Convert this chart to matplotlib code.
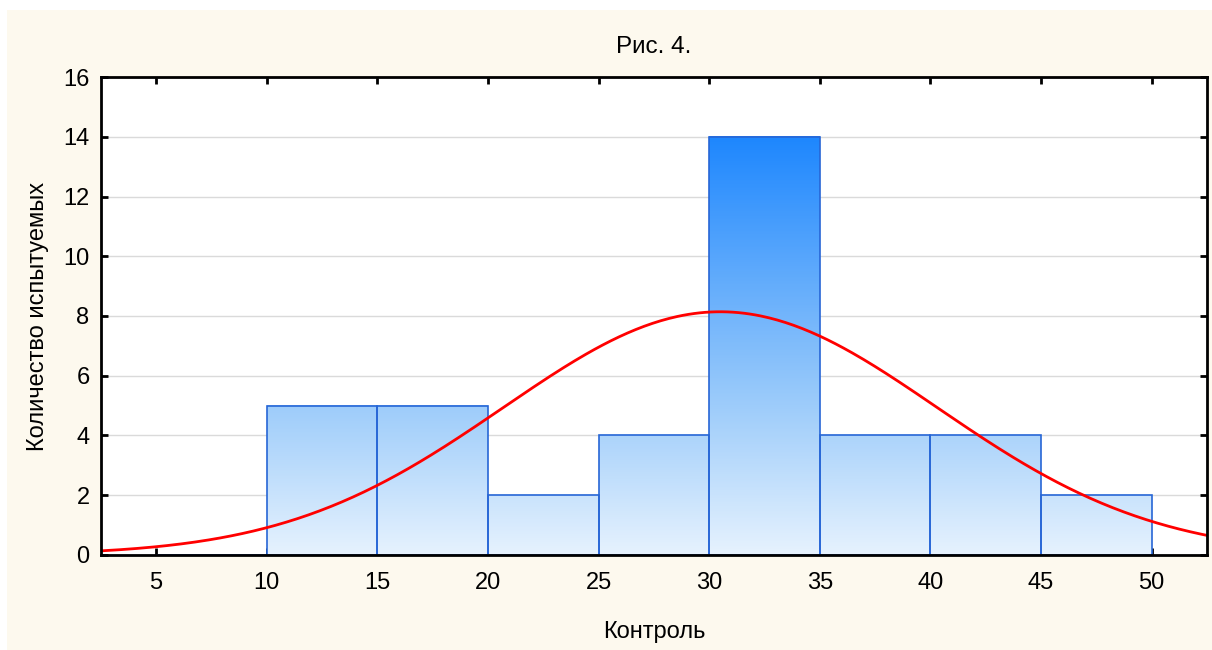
import numpy as np
import matplotlib
matplotlib.use("Agg")
import matplotlib.pyplot as plt
from matplotlib.colors import LinearSegmentedColormap
from matplotlib.patches import Rectangle

plt.rcParams['font.family'] = ['Liberation Sans', 'DejaVu Sans']

# histogram data
bin_edges = [5, 10, 15, 20, 25, 30, 35, 40, 45, 50]
counts = [0, 5, 5, 2, 4, 14, 4, 4, 2]

# fitted normal curve
mean = 30.5
std = 9.8
n_total = sum(counts)
bin_width = 5

x_ticks = [5, 10, 15, 20, 25, 30, 35, 40, 45, 50]
y_ticks = [0, 2, 4, 6, 8, 10, 12, 14, 16]

fig = plt.figure(figsize=(12.12, 6.5), dpi=100)
fig.patch.set_facecolor('white')
# cream background panel
fig.patches.append(Rectangle((7 / 1212, 0), 1, 1 - 10 / 650, transform=fig.transFigure,
                             facecolor='#FDF9EE', edgecolor='none', zorder=-10))

ax = fig.add_axes([0.0831, 0.1462, 0.9128, 0.7353])
ax.set_facecolor('white')

cmap = LinearSegmentedColormap.from_list(
    'blue_grad', [(0, '#E6F2FE'), (5 / 14, '#9DCCFA'), (1, '#1E87FE')])

for i, c in enumerate(counts):
    x0, x1 = bin_edges[i], bin_edges[i + 1]
    if c > 0:
        grad = np.linspace(0, c, 200).reshape(-1, 1)
        ax.imshow(grad, cmap=cmap, vmin=0, vmax=14, origin='lower', aspect='auto',
                  extent=[x0, x1, 0, c], zorder=2, interpolation='bilinear')
    ax.add_patch(Rectangle((x0, 0), x1 - x0, c, facecolor='none',
                           edgecolor='#2766D6', linewidth=1.2, zorder=3))

xs = np.linspace(2.5, 52.5, 400)
ys = n_total * bin_width / (std * np.sqrt(2 * np.pi)) * np.exp(-0.5 * ((xs - mean) / std) ** 2)
ax.plot(xs, ys, color='#FF0000', linewidth=2, zorder=4)

ax.set_xlim(2.5, 52.5)
ax.set_ylim(0, 16)
ax.set_xticks(x_ticks)
ax.set_yticks(y_ticks)
ax.grid(axis='y', color='#DADADA', linewidth=1, zorder=1)
ax.set_axisbelow(True)
ax.tick_params(direction='in', length=5, width=2, labelsize=17, top=True, right=True,
               labeltop=False, labelright=False)
ax.tick_params(axis='x', pad=12)
ax.tick_params(axis='y', pad=8)
for s in ax.spines.values():
    s.set_linewidth(2)
    s.set_zorder(5)

ax.set_title('Рис. 4.', fontsize=17.5, pad=17)
ax.set_xlabel('Контроль', fontsize=17, labelpad=20)
ax.set_ylabel('Количество испытуемых', fontsize=17, labelpad=10)

fig.savefig('out.png', dpi=100)
